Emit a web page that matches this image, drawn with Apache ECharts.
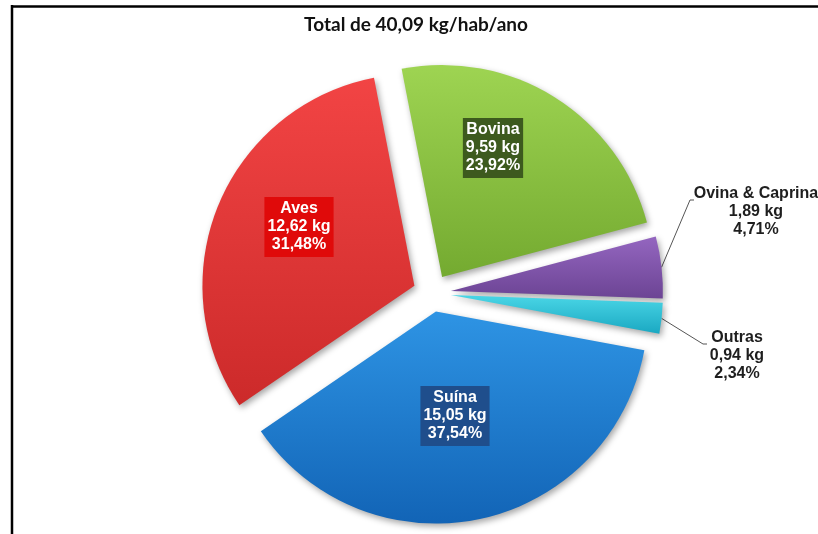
<!DOCTYPE html>
<html>
<head>
<meta charset="utf-8">
<script src="https://cdn.jsdelivr.net/npm/echarts@6/dist/echarts.min.js"></script>
<style>
  html, body { margin: 0; padding: 0; background: #fff; }
  #chart { width: 818px; height: 534px; }
</style>
</head>
<body>
<div id="chart"></div>
<script>
const titleText = 'Total de 40,09 kg/hab/ano';
const categories = ['Bovina', 'Ovina & Caprina', 'Outras', 'Suína', 'Aves'];
const kgValues = [9.59, 1.89, 0.94, 15.05, 12.62];
const percents = [23.92, 4.71, 2.34, 37.54, 31.48];

const topColors = ['#9ed452', '#9466c0', '#4ad6e6', '#2e94e4', '#f24444'];
const bottomColors = ['#74aa30', '#6c4494', '#1aa8c2', '#1264b6', '#cc2a2a'];
const boxColors = ['#3d5a1e', null, null, '#1f4e8c', '#e00a0a'];

// where the labels sit in the reference
const labelPos = [[493, 148], [694, 212], [707, 356], [455, 416], [299, 227]];
const richWidth = [0, 124, 60, 0, 0];

const pieCenter = [432, 293];
const startAngle = 101;
const explode = 19;

const fmt = (v) => v.toFixed(2).replace('.', ',');
const total = kgValues.reduce((a, b) => a + b, 0);

const chart = echarts.init(document.getElementById('chart'));

const hidden = {
  itemStyle: { color: 'rgba(0,0,0,0)', shadowColor: 'rgba(0,0,0,0)', shadowBlur: 0 },
  label: { show: false },
  labelLine: { show: false },
};

function labelFor(i) {
  const name = categories[i];
  if (boxColors[i] === null) {
    return {
      show: true,
      position: 'outside',
      formatter: '{a|' + name + '}\n{a|' + fmt(kgValues[i]) + ' kg}\n{a|' + fmt(percents[i]) + '%}',
      rich: {
        a: {
          width: richWidth[i],
          align: 'center',
          fontFamily: 'Liberation Sans',
          fontWeight: 'bold',
          fontSize: 16,
          lineHeight: 18,
          color: '#1e1e1e',
        },
      },
    };
  }
  return {
    show: true,
    position: 'inside',
    formatter: name + '\n' + fmt(kgValues[i]) + ' kg\n' + fmt(percents[i]) + '%',
    backgroundColor: boxColors[i],
    padding: [3, 3],
    color: '#fff',
    fontFamily: 'Liberation Sans',
    fontWeight: 'bold',
    fontSize: 16,
    lineHeight: 18,
  };
}

// one pie per slice, each pushed out along its own middle angle
let cumulative = 0;
const series = categories.map((name, i) => {
  const mid = (startAngle - (cumulative + kgValues[i] / 2) / total * 360) * Math.PI / 180;
  cumulative += kgValues[i];
  const outside = boxColors[i] === null;
  return {
    type: 'pie',
    center: [pieCenter[0] + explode * Math.cos(mid), pieCenter[1] - explode * Math.sin(mid)],
    radius: 212,
    startAngle: startAngle,
    clockwise: true,
    avoidLabelOverlap: false,
    silent: true,
    labelLayout: function (p) {
      if (p.dataIndex !== i) return {};
      const x = labelPos[i][0];
      const y = labelPos[i][1];
      if (outside) {
        const top = y - p.labelRect.height / 2;
        const start = p.labelLinePoints ? p.labelLinePoints[0] : [x, y];
        return {
          x: x,
          y: y,
          labelLinePoints: [start, [x - 4, top + 14], [x, top + 14]],
        };
      }
      return { x: x, y: y };
    },
    data: categories.map((n, j) => {
      if (j !== i) return Object.assign({ name: n, value: kgValues[j] }, hidden);
      return {
        name: n,
        value: kgValues[j],
        itemStyle: {
          color: new echarts.graphic.LinearGradient(0, 0, 0, 1, [
            { offset: 0, color: topColors[j] },
            { offset: 1, color: bottomColors[j] },
          ]),
          shadowBlur: 6,
          shadowOffsetX: 2,
          shadowOffsetY: 3,
          shadowColor: 'rgba(0,0,0,0.35)',
        },
        label: labelFor(j),
        labelLine: outside
          ? { show: true, length: 12, length2: 8, lineStyle: { color: '#555', width: 1 } }
          : { show: false },
      };
    }),
  };
});

const option = {
  animation: false,
  title: {
    text: titleText,
    left: 411,
    top: 10,
    textAlign: 'center',
    textStyle: {
      fontFamily: 'Lato',
      fontWeight: 'bold',
      fontSize: 19,
      color: '#111',
    },
  },
  graphic: [
    { type: 'line', shape: { x1: 11, y1: 6.5, x2: 818, y2: 6.5 }, style: { stroke: '#000', lineWidth: 2.5 } },
    { type: 'line', shape: { x1: 12, y1: 5, x2: 12, y2: 534 }, style: { stroke: '#000', lineWidth: 2.5 } },
  ],
  series: series,
};

chart.setOption(option);
</script>
</body>
</html>
